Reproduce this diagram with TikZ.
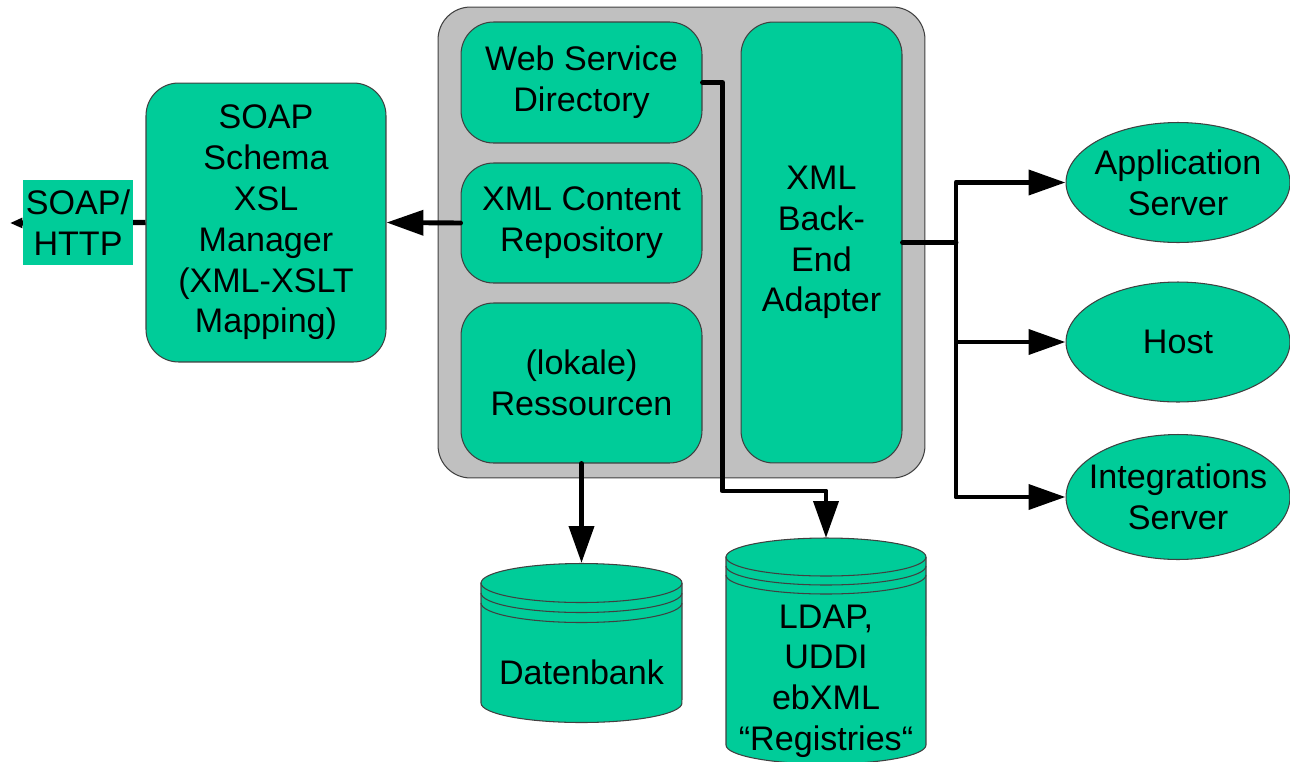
\documentclass[tikz,border=0pt]{standalone}
\usepackage{fontspec}
\setmainfont{Liberation Sans}
\usetikzlibrary{shapes.geometric, arrows.meta, positioning, calc}
\definecolor{mint}{RGB}{0,204,153}
\definecolor{panelgray}{RGB}{192,192,192}

\begin{document}
\begin{tikzpicture}[x=0.02cm, y=-0.02cm,
    font=\fontsize{19.4}{23.2}\selectfont,
    module/.style={rectangle, rounded corners=0.65cm, draw=black!75, line width=0.6pt, fill=mint, align=center, inner sep=0pt},
    target/.style={ellipse, draw=black!75, line width=0.6pt, fill=mint, align=center, minimum width=4.48cm, inner xsep=-0.3cm, inner ysep=0pt},
    store/.style={draw=black!75, line width=0.6pt, fill=mint},
    flow/.style={line width=2.8pt, line cap=round, line join=round, -{Triangle[length=21pt, width=14pt]}},
    wire/.style={line width=2.8pt, line cap=round, line join=round}
]
\useasboundingbox (0,0) rectangle (1290,761);

% Core panel and its modules
\node[rectangle, rounded corners=0.65cm, draw=black!75, line width=0.6pt, fill=panelgray, minimum width=9.74cm, minimum height=9.42cm] (core) at (681.5,242.5) {};
\node[module, minimum width=4.82cm, minimum height=2.42cm] (wsd) at (581.5,82.5) {Web Service\\Directory};
\node[module, minimum width=4.82cm, minimum height=2.4cm] (xcr) at (581.5,223) {XML Content\\Repository};
\node[module, minimum width=4.82cm, minimum height=3.2cm] (res) at (581.5,383) {(lokale)\\Ressourcen};
\node[module, minimum width=3.22cm, minimum height=8.82cm] (adapter) at (821.5,242.5) {XML\\Back-\\End\\Adapter};

% SOAP side
\node[module, minimum width=4.8cm, minimum height=5.58cm] (soap) at (266,222.5) {SOAP\\Schema\\XSL\\Manager\\(XML-XSLT\\Mapping)};
\coordinate (httpend) at (10,223);
\draw[line width=3pt, -{Triangle[length=7pt, width=5.5pt]}] (soap.west) -- (httpend);
\node[rectangle, fill=mint, align=center, minimum width=2.2cm, minimum height=1.7cm, inner sep=0pt] (http) at (78,222.5) {SOAP/\\HTTP};

% Back-end targets
\node[target, minimum height=2.4cm] (app) at (1178,182.5) {Application\\Server};
\node[target, minimum height=2.4cm] (host) at (1178,342) {Host};
\node[target, minimum height=2.5cm] (integ) at (1178,497) {Integrations\\Server};

% Storage cylinders
\filldraw[store] (481,583) -- (481,703) arc[start angle=180, end angle=360, x radius=2.01cm, y radius=0.39cm] -- (682,583) arc[start angle=0, end angle=180, x radius=2.01cm, y radius=0.39cm] -- cycle;
\foreach \dy in {0,10,20}
  \draw[store, fill=none] (481,583+\dy) arc[start angle=180, end angle=360, x radius=2.01cm, y radius=0.39cm];
\node (db) at (581.5,672) {Datenbank};
\coordinate (dbtop) at (581.5,563);

\filldraw[store] (726,557) -- (726,745) arc[start angle=180, end angle=360, x radius=2cm, y radius=0.38cm] -- (926,557) arc[start angle=0, end angle=180, x radius=2cm, y radius=0.38cm] -- cycle;
\foreach \dy in {0,9,18}
  \draw[store, fill=none] (726,557+\dy) arc[start angle=180, end angle=360, x radius=2cm, y radius=0.38cm];
\node[align=center] (reg) at (826,681) {LDAP,\\UDDI\\ebXML\\“Registries“};
\coordinate (regtop) at (826,538);

% Arrows
\draw[flow] (xcr.west) -- (soap.east);
\draw[flow] (res.south) -- (dbtop);
\draw[flow] (wsd.east) -- ++(20,0) -- ++(0,408.5) -| (regtop);
\coordinate (split) at (956,242.5);
\draw[wire] (adapter.east) -- (split);
\draw[flow] (split) |- (app.west);
\draw[flow] (split) |- (host.west);
\draw[flow] (split) |- (integ.west);
\end{tikzpicture}
\end{document}
